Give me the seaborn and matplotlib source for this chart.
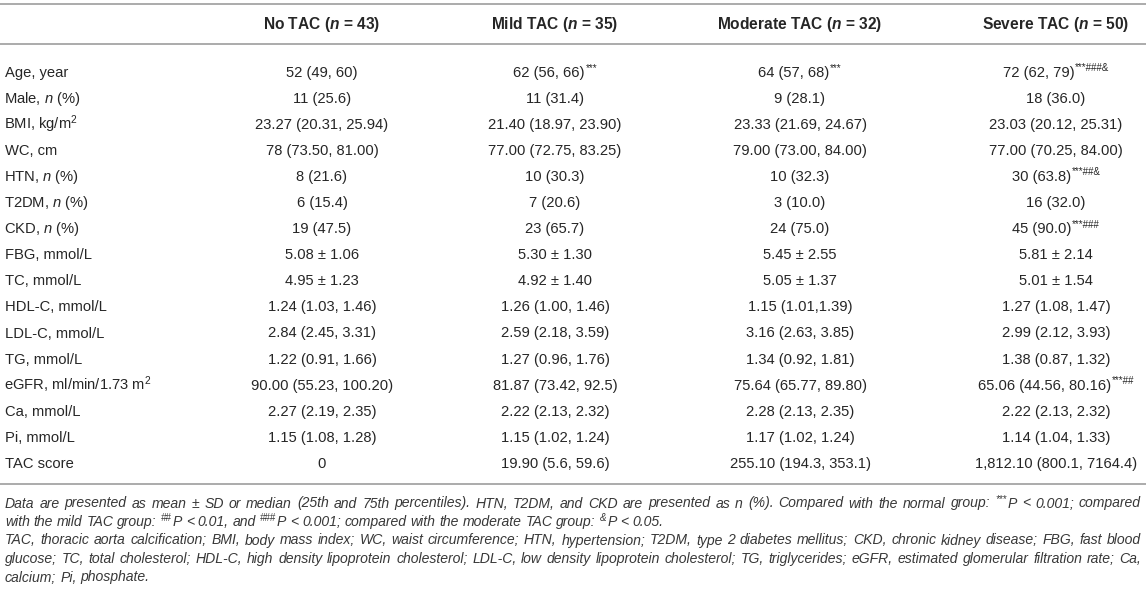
import re
import matplotlib.pyplot as plt
import seaborn as sns

# --- table content ---
groups = ["No TAC", "Mild TAC", "Moderate TAC", "Severe TAC"]
group_n = [43, 35, 32, 50]

row_labels = [
    "Age, year", "Male, $\\mathit{n}$ (%)", "BMI, kg/m$^{2}$", "WC, cm",
    "HTN, $\\mathit{n}$ (%)", "T2DM, $\\mathit{n}$ (%)", "CKD, $\\mathit{n}$ (%)",
    "FBG, mmol/L", "TC, mmol/L", "HDL-C, mmol/L", "LDL-C, mmol/L", "TG, mmol/L",
    "eGFR, ml/min/1.73 m$^{2}$", "Ca, mmol/L", "Pi, mmol/L", "TAC score",
]
no_tac = [
    "52 (49, 60)", "11 (25.6)", "23.27 (20.31, 25.94)", "78 (73.50, 81.00)",
    "8 (21.6)", "6 (15.4)", "19 (47.5)", "5.08 ± 1.06", "4.95 ± 1.23",
    "1.24 (1.03, 1.46)", "2.84 (2.45, 3.31)", "1.22 (0.91, 1.66)",
    "90.00 (55.23, 100.20)", "2.27 (2.19, 2.35)", "1.15 (1.08, 1.28)", "0",
]
mild_tac = [
    "62 (56, 66)", "11 (31.4)", "21.40 (18.97, 23.90)", "77.00 (72.75, 83.25)",
    "10 (30.3)", "7 (20.6)", "23 (65.7)", "5.30 ± 1.30", "4.92 ± 1.40",
    "1.26 (1.00, 1.46)", "2.59 (2.18, 3.59)", "1.27 (0.96, 1.76)",
    "81.87 (73.42, 92.5)", "2.22 (2.13, 2.32)", "1.15 (1.02, 1.24)", "19.90 (5.6, 59.6)",
]
moderate_tac = [
    "64 (57, 68)", "9 (28.1)", "23.33 (21.69, 24.67)", "79.00 (73.00, 84.00)",
    "10 (32.3)", "3 (10.0)", "24 (75.0)", "5.45 ± 2.55", "5.05 ± 1.37",
    "1.15 (1.01,1.39)", "3.16 (2.63, 3.85)", "1.34 (0.92, 1.81)",
    "75.64 (65.77, 89.80)", "2.28 (2.13, 2.35)", "1.17 (1.02, 1.24)", "255.10 (194.3, 353.1)",
]
severe_tac = [
    "72 (62, 79)", "18 (36.0)", "23.03 (20.12, 25.31)", "77.00 (70.25, 84.00)",
    "30 (63.8)", "16 (32.0)", "45 (90.0)", "5.81 ± 2.14", "5.01 ± 1.54",
    "1.27 (1.08, 1.47)", "2.99 (2.12, 3.93)", "1.38 (0.87, 1.32)",
    "65.06 (44.56, 80.16)", "2.22 (2.13, 2.32)", "1.14 (1.04, 1.33)", "1,812.10 (800.1, 7164.4)",
]
# significance marks (superscripts), same order as the rows
no_sup = [""] * 16
mild_sup = ["***"] + [""] * 15
moderate_sup = ["***"] + [""] * 15
severe_sup = ["***###&", "", "", "", "***##&", "", "***###", "", "", "", "", "", "***##", "", "", ""]

# footnote lines as (text, superscript?) pieces
footnotes = [
    [("Data are presented as mean ± SD or median (25th and 75th percentiles). HTN, T2DM, and CKD are "
      "presented as n (%). Compared with the normal group: ", False), ("***", True), ("P < 0.001; compared", False)],
    [("with the mild TAC group: ", False), ("##", True), ("P < 0.01, and ", False), ("###", True),
     ("P < 0.001; compared with the moderate TAC group: ", False), ("&", True), ("P < 0.05.", False)],
    [("TAC, thoracic aorta calcification; BMI, body mass index; WC, waist circumference; HTN, hypertension; "
      "T2DM, type 2 diabetes mellitus; CKD, chronic kidney disease; FBG, fast blood", False)],
    [("glucose; TC, total cholesterol; HDL-C, high density lipoprotein cholesterol; LDL-C, low density "
      "lipoprotein cholesterol; TG, triglycerides; eGFR, estimated glomerular filtration rate; Ca,", False)],
    [("calcium; Pi, phosphate.", False)],
]
justified = [True, False, True, True, False]

# --- style ---
sns.set_theme(style="white")
plt.rcParams["font.family"] = ["Liberation Sans", "DejaVu Sans"]
plt.rcParams.update({
    "mathtext.fontset": "custom",
    "mathtext.rm": "Liberation Sans",
    "mathtext.it": "Liberation Sans:italic",
    "mathtext.bf": "Liberation Sans:bold",
    "mathtext.bfit": "Liberation Sans:italic:bold",
})

W, H = 1146, 594
ink = "#262626"
note_ink = "#383838"
rule = "#ababab"
col_x = [322, 555, 800, 1056]
label_x = 5
row_y0, row_step = 71, 26.1
fs = 10.6
head_fs = 11.2
sup_fs = 7
note_fs = 10.1
note_right = 1141
note_y0, note_step = 503, 18.5

fig = plt.figure(figsize=(W / 100, H / 100), dpi=100)
ax = fig.add_axes([0, 0, 1, 1])
ax.set_xlim(0, W)
ax.set_ylim(H, 0)
ax.set_axis_off()
rend = fig.canvas.get_renderer()

ax.hlines([4, 44, 484], 0, W, color=rule, lw=1.4)

# header
for cx, g, n in zip(col_x, groups, group_n):
    ax.text(cx, 24 + 5.5, f"{g} ($\\mathbfit{{n}}$ = {n})", ha="center", va="baseline",
            fontsize=head_fs, fontweight="bold", color=ink)


def put_cell(x_mid, y, main, sup):
    t = ax.text(0, y, main, ha="left", va="baseline", fontsize=fs, color=ink)
    w = t.get_window_extent(rend).width
    ws = 0
    s = None
    if sup:
        s = ax.text(0, y - 5.5, sup, ha="left", va="baseline", fontsize=sup_fs, color=ink)
        ws = s.get_window_extent(rend).width + 1
    x0 = x_mid - (w + ws) / 2
    t.set_x(x0)
    if s is not None:
        s.set_x(x0 + w + 1)


columns = [(no_tac, no_sup), (mild_tac, mild_sup), (moderate_tac, moderate_sup), (severe_tac, severe_sup)]
for i, lab in enumerate(row_labels):
    yb = row_y0 + i * row_step + 5.5
    lx = label_x - (1.5 if "$" in lab else 0)
    ax.text(lx, yb, lab, ha="left", va="baseline", fontsize=fs, color=ink)
    for cx, (vals, sups) in zip(col_x, columns):
        put_cell(cx, yb, vals[i], sups[i])


def seg_width(txt, size):
    # width including spaces: measure between two guard letters
    a = ax.text(0, 0, "x" + txt + "x", fontsize=size, style="italic")
    b = ax.text(0, 0, "xx", fontsize=size, style="italic")
    w = a.get_window_extent(rend).width - b.get_window_extent(rend).width
    a.remove()
    b.remove()
    return w


# footnotes (word by word so full lines can be justified)
for j, pieces in enumerate(footnotes):
    yb = note_y0 + j * note_step + 4.5
    tokens = []
    for txt, is_sup in pieces:
        size = sup_fs if is_sup else note_fs
        for tok in re.split(r"( )", txt):
            if tok:
                tokens.append((tok, is_sup, seg_width(tok, size) + (1 if is_sup else 0)))
    natural = sum(t[2] for t in tokens)
    n_gaps = sum(1 for t in tokens if t[0] == " ")
    extra = (note_right - label_x - natural) / n_gaps if justified[j] else 0
    x = label_x
    for tok, is_sup, w in tokens:
        if tok == " ":
            x += w + extra
            continue
        size = sup_fs if is_sup else note_fs
        ax.text(x, yb - (5 if is_sup else 0), tok, ha="left", va="baseline", fontsize=size,
                style="italic", color=note_ink)
        x += w

fig.savefig("out.png", dpi=100)
